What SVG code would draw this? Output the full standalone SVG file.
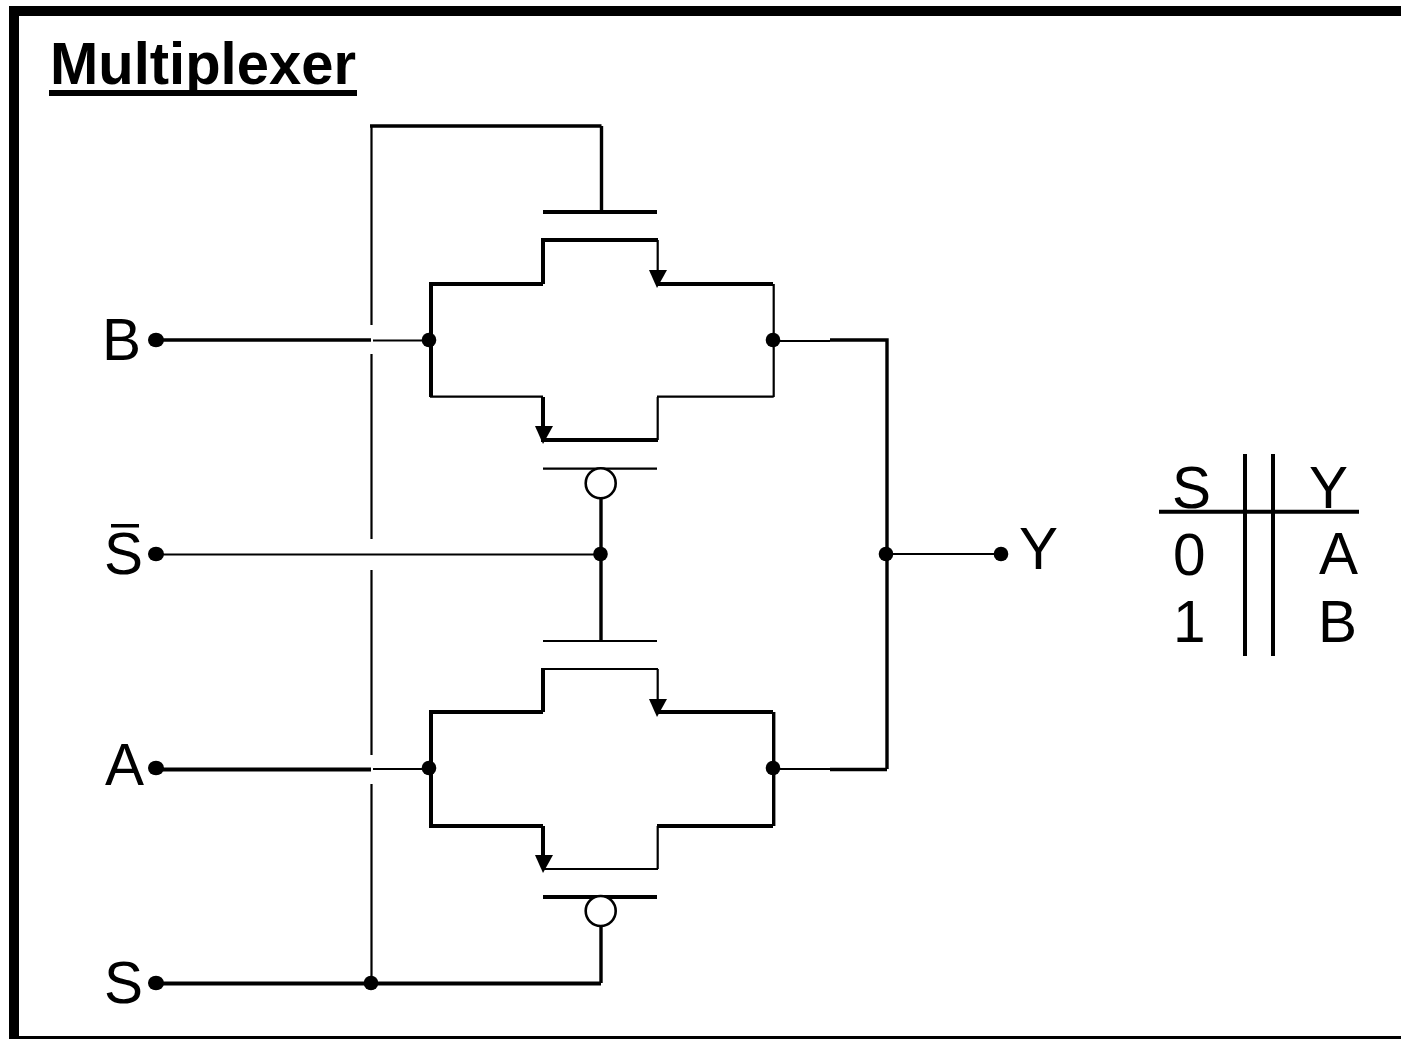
<svg xmlns="http://www.w3.org/2000/svg" width="1401" height="1039" viewBox="0 0 1401 1039">
<style>
text{font-family:"Liberation Sans",Arial,sans-serif;fill:#000}
.l{font-size:58.5px}
.t{font-size:60px;font-weight:bold}
.w{fill:none;stroke:#000;stroke-linecap:butt;stroke-linejoin:miter}
.n{stroke-width:2.2}
.m{stroke-width:3.4}
.k{stroke-width:4}
.d{fill:#000}
.b{fill:#fff;stroke:#000;stroke-width:2.6}
</style>
<rect width="1401" height="1039" fill="#fff"/>
<g id="frame"><rect x="9" y="6" width="1392" height="10" fill="#000"/><rect x="9" y="6" width="10" height="1033" fill="#000"/><rect x="9" y="1036" width="1392" height="3" fill="#000"/></g>
<g id="title"><text class="t" x="50" y="84" textLength="306" lengthAdjust="spacingAndGlyphs">Multiplexer</text><rect x="49" y="90" width="308" height="6" fill="#000"/></g>
<g id="connectors">
<path class="w n" d="M371.5 126V325M371.5 354V539M371.5 570V755M371.5 784V983"/>
<path class="w m" d="M370 126H601.500M601.500 126V212"/>
<path class="w m" d="M163 340H371M830 340H887V769M830 769.500H887"/>
<path class="w n" d="M373 340.500H429M773 341H830M373 769H429M773 769H830"/>
<path class="w n" d="M163 554.500H600M886 554H1001"/>
<path class="w k" d="M163 769.500H371"/>
<path class="w m" d="M601 498V641M601 926V983"/>
<path class="w k" d="M163 983.500H601"/>
</g>
<g id="upper-nmos">
<path class="w k" d="M543 212H657"/>
<path class="w k" d="M541 240H658M543 240V284M431 284H543M657 284H773M431 282V397M543 397V430M541 440H658"/>
<path class="w n" d="M657.700 240V275M773.700 284V397M430 396.700H543M657 396.700H773.700M657.700 397V440M543 468.700H657"/>
<polygon class="d" points="649,270 667,270 657,288"/>
<polygon class="d" points="535,426 553,426 543,444"/>
<circle class="b" cx="600.700" cy="483.300" r="15"/>
<ellipse class="d" cx="429" cy="340" rx="7.300" ry="7.300"/><ellipse class="d" cx="773" cy="340" rx="7.300" ry="7.300"/>
</g>
<g id="lower-nmos">
<path class="w n" d="M543 641H657M541 669H658M657.700 669V705M543 869H658M657.700 826V869"/>
<path class="w k" d="M543 669V712M431 712H543M657 712H773M431 710V828M431 826H543M657 826H773M543 826V860M543 897H657"/>
<path class="w m" d="M773.700 712V826"/>
<polygon class="d" points="649,699 667,699 657,717"/>
<polygon class="d" points="535,855 553,855 543,873"/>
<circle class="b" cx="600.700" cy="911" r="15"/>
<ellipse class="d" cx="429" cy="768" rx="7.300" ry="7.300"/><ellipse class="d" cx="773" cy="768" rx="7.300" ry="7.300"/>
</g>
<g id="junctions">
<ellipse class="d" cx="600.500" cy="554" rx="7.300" ry="7.300"/><ellipse class="d" cx="886" cy="554" rx="7.300" ry="7.300"/><ellipse class="d" cx="371" cy="983" rx="7.300" ry="7.300"/>
</g>
<g id="input-b"><text class="l" x="102" y="360">B</text><ellipse class="d" cx="156" cy="340" rx="8" ry="7.300"/></g>
<g id="input-sbar"><text class="l" x="104" y="574">S</text><rect x="111" y="524" width="28" height="3.500" fill="#000"/><ellipse class="d" cx="156" cy="554" rx="8" ry="7.300"/></g>
<g id="input-a"><text class="l" x="105" y="785">A</text><ellipse class="d" cx="156" cy="768" rx="8" ry="7.300"/></g>
<g id="input-s"><text class="l" x="104" y="1003">S</text><ellipse class="d" cx="156" cy="983" rx="8" ry="7.300"/></g>
<g id="output-y"><text class="l" x="1019" y="569">Y</text><ellipse class="d" cx="1001" cy="554" rx="7.300" ry="7.300"/></g>
<g id="truth-table">
<path class="w k" d="M1245 454V656M1273 454V656M1159 511.700H1359"/>
<text class="l" x="1172" y="508">S</text><text class="l" x="1309" y="508">Y</text>
<text class="l" x="1173" y="575">0</text><text class="l" x="1319" y="574">A</text>
<text class="l" x="1173" y="642">1</text><text class="l" x="1318" y="642">B</text>
</g>
</svg>
